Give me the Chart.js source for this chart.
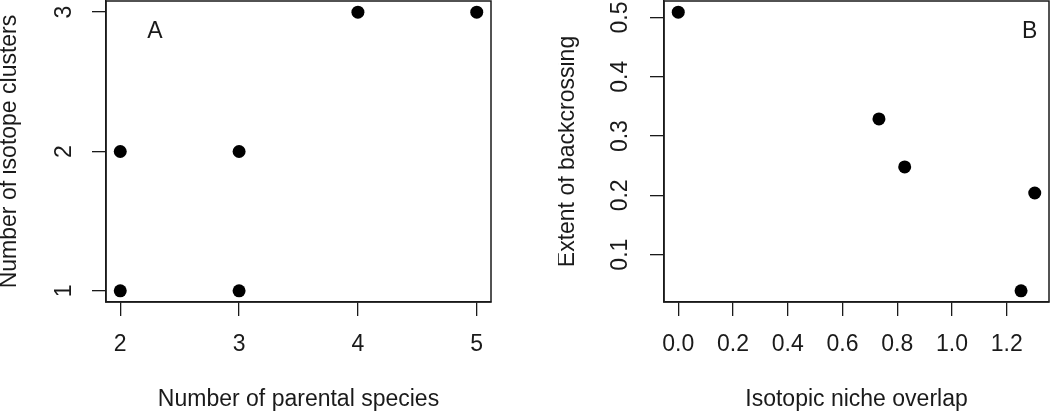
<!DOCTYPE html>
<html>
<head>
<meta charset="utf-8">
<script src="https://cdn.jsdelivr.net/npm/chart.js@4.4.1/dist/chart.umd.min.js"></script>
<style>
  html, body { margin: 0; padding: 0; background: #fff; }
  #wrap { position: relative; width: 1050px; height: 413px; overflow: hidden; }
  .panel { position: absolute; top: 0; width: 492px; height: 413px; }
</style>
</head>
<body>
<div id="wrap">
  <div class="panel" style="left:0"><canvas id="chartA"></canvas></div>
  <div class="panel" style="left:558px"><canvas id="chartB"></canvas></div>
</div>
<script>
// ===== DATA: panel A =====
const parentalSpecies = [2, 2, 3, 3, 4, 5];
const isotopeClusters = [1, 2, 1, 2, 3, 3];
const xTicksA = [2, 3, 4, 5];
const yTicksA = [1, 2, 3];

// ===== DATA: panel B =====
const nicheOverlap = [0.0, 0.733, 0.827, 1.252, 1.302];
const backcrossing = [0.509, 0.329, 0.248, 0.039, 0.204];
const xTicksB = [0.0, 0.2, 0.4, 0.6, 0.8, 1.0, 1.2];
const yTicksB = [0.1, 0.2, 0.3, 0.4, 0.5];

const FONT = '"Liberation Sans", Arial, Helvetica, sans-serif';
const INK = '#1a1a1a';

// R-style axis limits (4% extension)
function rRange(vals) {
    const lo = Math.min(...vals), hi = Math.max(...vals);
    const d = (hi - lo) * 0.04;
    return [lo - d, hi + d];
}

// box, rotated y tick labels and panel letter
const rStyle = {
    id: 'rStyle',
    afterDraw(chart, args, opts) {
        const ctx = chart.ctx;
        const a = chart.chartArea;
        ctx.save();
        ctx.strokeStyle = INK;
        ctx.lineWidth = 1.5;
        ctx.strokeRect(a.left, a.top, a.right - a.left, a.bottom - a.top);

        const ys = chart.scales.y;
        ctx.fillStyle = INK;
        ctx.font = '23px ' + FONT;
        ctx.textAlign = 'center';
        ctx.textBaseline = 'middle';
        ys.ticks.forEach(t => {
            const py = ys.getPixelForValue(t.value);
            ctx.save();
            ctx.translate(a.left - opts.labelGap, py);
            ctx.rotate(-Math.PI / 2);
            ctx.fillText(opts.fmt(t.value), 0, 0);
            ctx.restore();
        });

        ctx.textBaseline = 'alphabetic';
        ctx.fillText(opts.letter, opts.letterX(a), a.top + 37);
        ctx.restore();
    }
};

function makeChart(id, xs, ys, xTicks, yTicks, xTitle, yTitle, fmt, letter, letterX, labelGap) {
    const [xMin, xMax] = rRange(xs);
    const [yMin, yMax] = rRange(ys);
    const axisCommon = {
        type: 'linear',
        border: { display: true, color: INK, width: 1.5 },
        grid: { drawOnChartArea: false, drawTicks: true, tickLength: 14, color: INK, lineWidth: 1.3 }
    };
    return new Chart(document.getElementById(id), {
        type: 'scatter',
        data: {
            datasets: [{
                data: xs.map((x, i) => ({ x: x, y: ys[i] })),
                backgroundColor: '#000',
                borderWidth: 0,
                pointRadius: 6.5,
                pointHoverRadius: 6.5,
                clip: false
            }]
        },
        options: {
            responsive: true,
            maintainAspectRatio: false,
            animation: false,
            events: [],
            layout: { autoPadding: false, padding: { top: 1, right: 1, left: 0, bottom: 0 } },
            plugins: {
                legend: { display: false },
                tooltip: { enabled: false },
                rStyle: { fmt: fmt, letter: letter, letterX: letterX, labelGap: labelGap }
            },
            scales: {
                x: Object.assign({}, axisCommon, {
                    min: xMin, max: xMax,
                    afterBuildTicks: s => { s.ticks = xTicks.map(v => ({ value: v })); },
                    afterFit: s => { s.height = 111; s.paddingLeft = 0; s.paddingRight = 0; },
                    ticks: {
                        color: INK, padding: 14.7,
                        font: { family: FONT, size: 23 },
                        maxRotation: 0, minRotation: 0, autoSkip: false,
                        callback: v => fmt(v)
                    },
                    title: {
                        display: true, text: xTitle, color: INK,
                        font: { family: FONT, size: 23, lineHeight: 1.2 },
                        padding: { top: 0, bottom: 0 }
                    }
                }),
                y: Object.assign({}, axisCommon, {
                    min: yMin, max: yMax,
                    afterBuildTicks: s => { s.ticks = yTicks.map(v => ({ value: v })); },
                    afterFit: s => { s.width = 106; s.paddingTop = 0; s.paddingBottom = 0; },
                    ticks: { display: false },
                    title: {
                        display: true, text: yTitle, color: INK,
                        font: { family: FONT, size: 23, lineHeight: 0.87 },
                        padding: { top: 0, bottom: 0 }
                    }
                })
            }
        },
        plugins: [rStyle]
    });
}

makeChart('chartA', parentalSpecies, isotopeClusters, xTicksA, yTicksA,
    'Number of parental species', 'Number of isotope clusters',
    v => String(v), 'A', a => a.left + 49, 41);

makeChart('chartB', nicheOverlap, backcrossing, xTicksB, yTicksB,
    'Isotopic niche overlap', 'Extent of backcrossing',
    v => v.toFixed(1), 'B', a => a.right - 19.3, 43);
</script>
</body>
</html>
